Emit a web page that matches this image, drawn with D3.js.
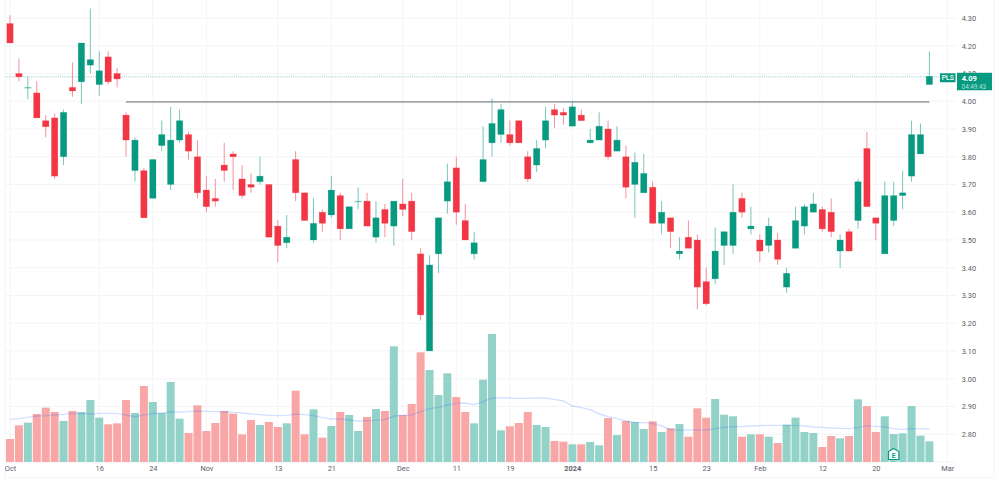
<!DOCTYPE html>
<html>
<head>
<meta charset="utf-8">
<script src="https://cdnjs.cloudflare.com/ajax/libs/d3/7.8.5/d3.min.js"></script>
<style>
  html, body { margin: 0; padding: 0; background: #fff; }
  svg { display: block; }
  .tick text { font-family: Roboto, sans-serif; }
</style>
</head>
<body>
<svg id="chart" width="1000" height="481"></svg>
<script>
// Daily candles for PLS, 2 Oct 2023 to 28 Feb 2024
const openP = [4.28,4.10,4.05,4.03,3.93,3.94,3.80,4.05,4.07,4.13,4.06,4.16,4.10,3.95,3.75,3.75,3.65,3.84,3.70,3.86,
  3.88,3.80,3.68,3.65,3.77,3.81,3.72,3.70,3.71,3.70,3.55,3.49,3.79,3.67,3.50,3.60,3.59,3.66,3.54,3.64,
  3.64,3.51,3.61,3.55,3.63,3.64,3.45,3.10,3.45,3.64,3.76,3.57,3.45,3.71,3.85,3.88,3.88,3.93,3.80,3.77,
  3.86,3.97,3.96,3.91,3.95,3.85,3.86,3.90,3.82,3.80,3.70,3.67,3.69,3.56,3.58,3.45,3.51,3.50,3.35,3.36,
  3.48,3.48,3.65,3.54,3.50,3.48,3.50,3.33,3.47,3.55,3.60,3.61,3.60,3.46,3.53,3.57,3.83,3.58,3.45,3.57,
  3.66,3.73,3.81,4.06];
const highP = [4.31,4.154,4.088,4.072,3.95,3.956,3.97,4.14,4.21,4.334,4.18,4.18,4.12,3.96,3.87,3.76,3.79,3.93,3.98,3.97,
  3.89,3.86,3.73,3.72,3.85,3.82,3.77,3.74,3.80,3.70,3.572,3.59,3.82,3.67,3.65,3.61,3.73,3.67,3.62,3.69,
  3.67,3.64,3.63,3.64,3.72,3.67,3.47,3.445,3.58,3.775,3.80,3.63,3.53,3.91,4.01,3.99,3.93,3.93,3.82,3.86,
  3.98,3.99,3.975,4.00,3.97,3.90,3.96,3.93,3.91,3.84,3.815,3.81,3.71,3.64,3.58,3.51,3.57,3.52,3.40,3.545,
  3.53,3.70,3.67,3.62,3.52,3.58,3.525,3.40,3.62,3.63,3.67,3.62,3.65,3.52,3.54,3.72,3.89,3.58,3.71,3.71,
  3.75,3.93,3.92,4.18];
const lowP = [4.21,4.072,4.007,3.94,3.87,3.72,3.77,4.016,3.99,4.10,4.02,4.06,4.05,3.80,3.71,3.58,3.65,3.82,3.68,3.85,
  3.79,3.65,3.60,3.62,3.71,3.68,3.65,3.67,3.70,3.51,3.42,3.47,3.64,3.57,3.49,3.53,3.58,3.50,3.54,3.61,
  3.55,3.49,3.51,3.48,3.585,3.50,3.21,3.10,3.38,3.595,3.555,3.50,3.43,3.71,3.80,3.85,3.84,3.85,3.71,3.745,
  3.83,3.905,3.915,3.91,3.93,3.85,3.86,3.79,3.82,3.65,3.58,3.67,3.56,3.52,3.47,3.43,3.47,3.25,3.265,3.34,
  3.41,3.45,3.58,3.52,3.42,3.455,3.41,3.31,3.47,3.52,3.60,3.53,3.51,3.40,3.46,3.54,3.62,3.50,3.45,3.55,
  3.61,3.71,3.81,4.06];
const closeP = [4.21,4.088,4.05,3.94,3.908,3.73,3.96,4.037,4.21,4.15,4.11,4.07,4.08,3.86,3.86,3.58,3.79,3.88,3.86,3.93,
  3.82,3.67,3.62,3.64,3.75,3.80,3.66,3.69,3.73,3.51,3.48,3.51,3.67,3.57,3.56,3.56,3.68,3.54,3.62,3.64,
  3.55,3.58,3.56,3.64,3.61,3.53,3.23,3.41,3.58,3.71,3.60,3.50,3.49,3.79,3.92,3.97,3.85,3.85,3.72,3.83,
  3.93,3.95,3.95,3.98,3.93,3.86,3.91,3.80,3.86,3.69,3.78,3.74,3.56,3.60,3.53,3.46,3.47,3.33,3.27,3.46,
  3.53,3.60,3.60,3.55,3.46,3.55,3.43,3.38,3.57,3.62,3.63,3.54,3.53,3.50,3.46,3.71,3.62,3.56,3.66,3.66,
  3.67,3.88,3.88,4.09];

// Volume in millions of shares and its moving average
const volumes = [6.9,11.0,11.8,14.4,16.3,15.0,12.3,15.3,15.0,18.6,13.3,11.3,11.6,18.6,14.7,22.8,18.0,14.7,24.0,13.0,
  8.7,17.0,9.3,11.7,15.3,14.5,8.3,12.6,11.1,12.0,10.5,11.6,21.4,8.3,15.8,7.3,10.8,15.0,14.1,9.3,
  13.5,15.9,15.3,34.7,14.1,17.4,32.9,27.6,20.1,26.6,19.5,15.0,11.6,24.7,38.4,9.5,10.7,11.7,15.0,11.1,
  10.5,6.3,6.1,5.3,5.3,6.0,5.0,13.2,8.1,12.3,12.0,9.9,12.2,9.0,10.1,11.4,7.6,16.1,13.3,18.9,
  14.2,13.7,7.6,8.3,8.3,7.6,5.7,11.2,13.3,9.0,8.7,4.5,7.8,7.1,7.8,18.8,16.8,9.0,13.7,8.4,
  8.6,16.8,7.9,6.2];
const volumeMA = [12.8,13.0,13.4,13.8,13.9,14.1,14.3,14.6,14.5,14.4,14.6,14.6,14.5,14.1,13.6,14.1,14.5,14.7,15.0,15.0,
  15.1,15.3,15.2,15.1,15.0,14.9,14.7,14.4,14.2,14.0,13.9,14.0,14.4,14.2,13.9,13.3,12.9,12.9,12.6,12.3,
  12.4,12.5,12.7,13.8,14.0,14.1,15.2,16.0,16.4,17.1,17.6,17.7,17.2,18.1,19.2,19.3,19.2,19.1,19.1,19.2,
  19.2,18.8,18.3,16.8,16.3,15.7,14.4,13.6,13.0,12.3,11.9,11.8,11.6,10.8,9.7,9.5,9.6,9.6,9.6,10.0,
  10.4,10.6,10.6,10.8,10.9,11.0,11.0,11.0,11.0,10.8,10.5,10.4,10.2,10.1,10.0,10.4,10.9,10.7,10.5,10.0,
  9.8,10.0,10.0,9.9];

// Bottom axis labels and the session each one sits on
const dateLabels = ["Oct","16","24","Nov","13","21","Dec","11","19","2024","15","23","Feb","12","20","Mar"];
const dateIndexes = [0,10,16,22,30,36,44,50,56,63,72,78,84,91,97,105];

const priceTicks = [4.30,4.20,4.10,4.00,3.90,3.80,3.70,3.60,3.50,3.40,3.30,3.20,3.10,3.00,2.90,2.80];
const resistance = 3.998;
const resistanceFrom = 13;
const resistanceTo = 103;
const lastPrice = 4.09;
const symbol = "PLS";
const countdown = "04:49:43";
const earningsIndex = 99;

const UP = "#089981", DOWN = "#f23645";
const UP_VOL = "#92d2c8", DOWN_VOL = "#f8a6a6";
const GRID = "#f3f4f7";
const LABEL = "#5d606b";

const svg = d3.select("#chart");
const x = d3.scaleLinear().domain([0, 103]).range([10, 929.4]);
const y = d3.scaleLinear().domain([4.30, 2.80]).range([18, 434.2]);
const v = d3.scaleLinear().domain([0, 38.4]).range([462, 334]);

const plotLeft = 5, plotRight = 957, plotBottom = 462, frameRight = 994, frameBottom = 477.5;

svg.append("defs").append("clipPath").attr("id", "timeClip")
  .append("rect").attr("x", plotLeft).attr("y", 0).attr("width", frameRight - plotLeft).attr("height", 481);

// Outer frame
const frame = svg.append("g").attr("stroke", GRID).attr("stroke-width", 1);
frame.append("line").attr("x1", plotLeft).attr("x2", plotLeft).attr("y1", 0).attr("y2", frameBottom);
frame.append("line").attr("x1", frameRight).attr("x2", frameRight).attr("y1", 0).attr("y2", frameBottom);
frame.append("line").attr("x1", plotLeft).attr("x2", frameRight).attr("y1", frameBottom).attr("y2", frameBottom);
frame.append("line").attr("x1", plotLeft).attr("x2", plotRight).attr("y1", plotBottom).attr("y2", plotBottom);

// Grid
const grid = svg.append("g").attr("stroke", GRID).attr("stroke-width", 1);
grid.selectAll(".h").data(priceTicks).join("line").attr("class", "h")
  .attr("x1", plotLeft).attr("x2", plotRight)
  .attr("y1", d => y(d)).attr("y2", d => y(d));
grid.selectAll(".v").data(dateIndexes).join("line").attr("class", "v")
  .attr("x1", d => x(d)).attr("x2", d => x(d))
  .attr("y1", 0).attr("y2", plotBottom);

// Volume pane
const isUp = i => closeP[i] >= openP[i];
const volW = 8;
svg.append("g").selectAll("rect").data(volumes).join("rect")
  .attr("x", (d, i) => x(i) - volW / 2)
  .attr("width", volW)
  .attr("y", d => v(d))
  .attr("height", d => plotBottom - v(d))
  .attr("fill", (d, i) => isUp(i) ? UP_VOL : DOWN_VOL);

svg.append("path").datum(volumeMA)
  .attr("fill", "none").attr("stroke", "#2962ff").attr("stroke-opacity", 0.2).attr("stroke-width", 1.4)
  .attr("d", d3.line().x((d, i) => x(i)).y(d => v(d)));

// Last-price dotted line
svg.append("line")
  .attr("x1", plotLeft).attr("x2", plotRight)
  .attr("y1", y(lastPrice) + 0.5).attr("y2", y(lastPrice) + 0.5)
  .attr("stroke", UP).attr("stroke-opacity", 0.6).attr("stroke-width", 0.8).attr("stroke-dasharray", "1 1.2");

// Horizontal resistance level
svg.append("line")
  .attr("x1", x(resistanceFrom)).attr("x2", x(resistanceTo))
  .attr("y1", y(resistance)).attr("y2", y(resistance))
  .attr("stroke", "#a3a4aa").attr("stroke-width", 1.7);

// Candles
const bodyW = 6.4;
const candles = svg.append("g").selectAll("g").data(openP).join("g");
candles.append("line")
  .attr("x1", (d, i) => x(i)).attr("x2", (d, i) => x(i))
  .attr("y1", (d, i) => y(highP[i])).attr("y2", (d, i) => y(lowP[i]))
  .attr("stroke", (d, i) => isUp(i) ? UP : DOWN)
  .attr("stroke-opacity", 0.55).attr("stroke-width", 1);
candles.append("rect")
  .attr("x", (d, i) => x(i) - bodyW / 2)
  .attr("width", bodyW)
  .attr("y", (d, i) => y(Math.max(openP[i], closeP[i])))
  .attr("height", (d, i) => Math.max(Math.abs(y(openP[i]) - y(closeP[i])), 0.8))
  .attr("fill", (d, i) => isUp(i) ? UP : DOWN)
  .attr("fill-opacity", (d, i) => openP[i] === closeP[i] ? 0.55 : 1)
  .attr("stroke", (d, i) => isUp(i) ? UP : DOWN)
  .attr("stroke-opacity", 0.22).attr("stroke-width", 0.8);

// Price axis
const yAxis = d3.axisRight(y).tickValues(priceTicks).tickSize(0).tickPadding(4.7).tickFormat(d3.format(".2f"));
const yg = svg.append("g").attr("transform", `translate(${plotRight},0)`).call(yAxis);
yg.select(".domain").remove();
yg.selectAll("text").attr("fill", LABEL).attr("font-size", 7.4);

// Time axis, clipped at the left edge of the pane
const xAxis = d3.axisBottom(x).tickValues(dateIndexes).tickSize(0).tickPadding(0)
  .tickFormat((d, i) => dateLabels[i]);
const xg = svg.append("g").attr("clip-path", "url(#timeClip)")
  .append("g").attr("transform", `translate(0,${plotBottom + 4})`).call(xAxis);
xg.select(".domain").remove();
xg.selectAll("text").attr("fill", LABEL).attr("font-size", 7.4)
  .attr("font-weight", (d, i) => dateLabels[i] === "2024" ? 700 : 400);

// Symbol tag and last-price badge
const tagY = y(lastPrice);
const tags = svg.append("g").attr("font-family", "Roboto, sans-serif");
tags.append("rect").attr("x", 940).attr("y", tagY - 3).attr("width", 15.5).attr("height", 9).attr("fill", UP);
tags.append("text").attr("x", 947.7).attr("y", tagY + 4.1).attr("text-anchor", "middle")
  .attr("fill", "#fff").attr("font-size", 6.8).attr("font-weight", 500).text(symbol);
tags.append("rect").attr("x", 957).attr("y", tagY - 3.5).attr("width", 35).attr("height", 17.5).attr("fill", UP);
tags.append("text").attr("x", 961.7).attr("y", tagY + 4.5)
  .attr("fill", "#fff").attr("font-size", 7.6).attr("font-weight", 700).text(d3.format(".2f")(lastPrice));
tags.append("text").attr("x", 961.7).attr("y", tagY + 12.3)
  .attr("fill", "#b5e2db").attr("font-size", 6.3).text(countdown);

// Earnings marker
const ex = x(earningsIndex);
const marker = svg.append("g").attr("transform", `translate(${ex},448.5)`);
marker.append("path")
  .attr("d", "M0,0 L5.2,3 L5.2,11 L-5.2,11 L-5.2,3 Z")
  .attr("fill", "#fff").attr("stroke", UP).attr("stroke-width", 1.2);
marker.append("text").attr("y", 9).attr("text-anchor", "middle")
  .attr("fill", UP).attr("font-family", "Roboto, sans-serif").attr("font-size", 7).attr("font-weight", 700).text("E");
</script>
</body>
</html>
